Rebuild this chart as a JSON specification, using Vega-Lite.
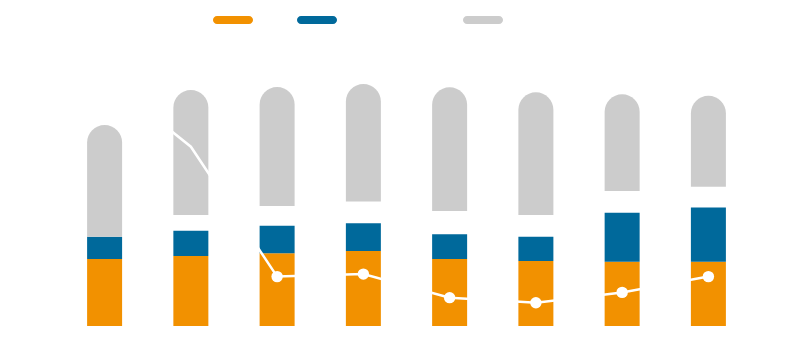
{
  "$schema": "https://vega.github.io/schema/vega-lite/v6.json",
  "width": 800,
  "height": 354,
  "autosize": {"type": "fit", "contains": "padding"},
  "padding": {"left": 13, "right": 0, "top": 0, "bottom": 28},
  "background": "white",
  "config": {"view": {"stroke": null}},
  "datasets": {
    "segments": [
      {"period": "1", "part": "Share", "start": 0, "end": 26.7},
      {"period": "1", "part": "Additional components", "start": 26.7, "end": 35.6},
      {"period": "1", "part": "Rest", "start": 35.6, "end": 80.2},
      {"period": "2", "part": "Share", "start": 0, "end": 27.9},
      {"period": "2", "part": "Additional components", "start": 27.9, "end": 38.0},
      {"period": "2", "part": "Rest", "start": 44.3, "end": 94.1},
      {"period": "3", "part": "Share", "start": 0, "end": 29.0},
      {"period": "3", "part": "Additional components", "start": 29.0, "end": 40.0},
      {"period": "3", "part": "Rest", "start": 47.9, "end": 95.3},
      {"period": "4", "part": "Share", "start": 0, "end": 29.9},
      {"period": "4", "part": "Additional components", "start": 29.9, "end": 41.0},
      {"period": "4", "part": "Rest", "start": 49.6, "end": 96.5},
      {"period": "5", "part": "Share", "start": 0, "end": 26.7},
      {"period": "5", "part": "Additional components", "start": 26.7, "end": 36.6},
      {"period": "5", "part": "Rest", "start": 45.9, "end": 95.2},
      {"period": "6", "part": "Share", "start": 0, "end": 25.9},
      {"period": "6", "part": "Additional components", "start": 25.9, "end": 35.6},
      {"period": "6", "part": "Rest", "start": 44.3, "end": 93.2},
      {"period": "7", "part": "Share", "start": 0, "end": 25.6},
      {"period": "7", "part": "Additional components", "start": 25.6, "end": 45.2},
      {"period": "7", "part": "Rest", "start": 53.8, "end": 92.4},
      {"period": "8", "part": "Share", "start": 0, "end": 25.6},
      {"period": "8", "part": "Additional components", "start": 25.6, "end": 47.3},
      {"period": "8", "part": "Rest", "start": 55.5, "end": 91.8}
    ],
    "line": [
      {"period": "1", "value": 99.0},
      {"period": "2", "value": 71.5},
      {"period": "3", "value": 19.7},
      {"period": "4", "value": 20.7},
      {"period": "5", "value": 11.3},
      {"period": "6", "value": 9.3},
      {"period": "7", "value": 13.4},
      {"period": "8", "value": 19.7}
    ]
  },
  "layer": [
    {
      "data": {"name": "segments"},
      "transform": [{"filter": "datum.part != 'Rest'"}],
      "mark": {"type": "bar", "size": 35},
      "encoding": {
        "x": {"field": "period", "type": "ordinal", "axis": null, "scale": {"type": "band", "paddingInner": 0, "paddingOuter": 0.562}},
        "y": {"field": "start", "type": "quantitative", "axis": null, "scale": {"domain": [0, 130], "nice": false}},
        "y2": {"field": "end"},
        "color": {
          "field": "part", "type": "nominal",
          "scale": {"domain": ["Share", "Additional components", "Rest"], "range": ["#F29100", "#00699B", "#CCCCCC"]},
          "legend": {"title": null, "orient": "none", "legendX": 200, "legendY": 0, "direction": "horizontal", "symbolType": "M-0.8,-0.2L0.8,-0.2A0.2,0.2,0,0,1,0.8,0.2L-0.8,0.2A0.2,0.2,0,0,1,-0.8,-0.2Z", "symbolSize": 1600, "symbolStrokeWidth": 0, "symbolOpacity": 1, "labelColor": "white", "labelFontSize": 11, "labelFont": "Liberation Sans", "columnPadding": 10, "padding": 0}
        }
      }
    },
    {
      "data": {"name": "segments"},
      "transform": [{"filter": "datum.part == 'Rest'"}],
      "mark": {"type": "bar", "size": 35, "cornerRadiusTopLeft": 17.5, "cornerRadiusTopRight": 17.5},
      "encoding": {
        "x": {"field": "period", "type": "ordinal", "axis": null},
        "y": {"field": "start", "type": "quantitative", "axis": null},
        "y2": {"field": "end"},
        "color": {"field": "part", "type": "nominal"}
      }
    },
    {
      "data": {"name": "line"},
      "mark": {"type": "line", "color": "white", "strokeWidth": 2.5},
      "encoding": {
        "x": {"field": "period", "type": "ordinal", "axis": null},
        "y": {"field": "value", "type": "quantitative", "axis": null}
      }
    },
    {
      "data": {"name": "line"},
      "transform": [{"filter": {"field": "period", "oneOf": ["1", "3", "4", "5", "6", "7", "8"]}}],
      "mark": {"type": "point", "filled": true, "color": "white", "size": 130, "opacity": 1},
      "encoding": {
        "x": {"field": "period", "type": "ordinal", "axis": null},
        "y": {"field": "value", "type": "quantitative", "axis": null}
      }
    }
  ]
}
